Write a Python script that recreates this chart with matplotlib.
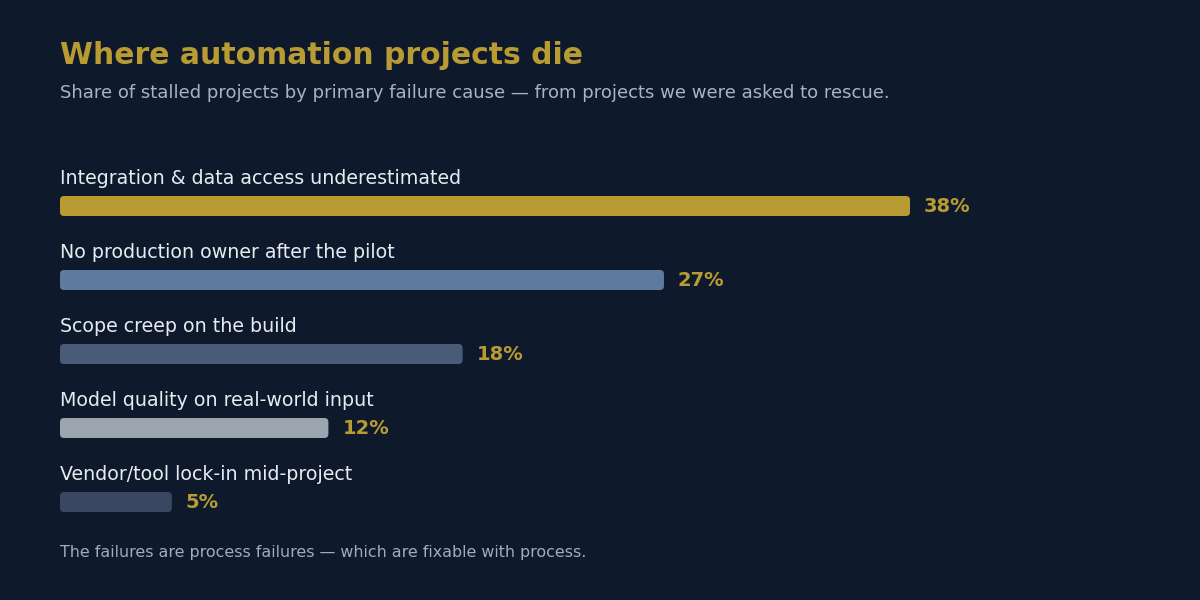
import matplotlib.pyplot as plt
from matplotlib.patches import FancyBboxPatch

plt.rcParams['font.family'] = ['DejaVu Sans']

# data
causes = ['Integration & data access underestimated',
          'No production owner after the pilot',
          'Scope creep on the build',
          'Model quality on real-world input',
          'Vendor/tool lock-in mid-project']
shares = [38, 27, 18, 12, 5]
barColors = ['#b89b32', '#5e7a9f', '#4a5b77', '#9ba4af', '#3a4760']

title = 'Where automation projects die'
subtitle = 'Share of stalled projects by primary failure cause \u2014 from projects we were asked to rescue.'
footnote = 'The failures are process failures \u2014 which are fixable with process.'

bg = '#0e1a2b'
gold = '#b89b32'

W, H = 1200, 600
fig = plt.figure(figsize=(W / 100, H / 100), dpi=100, facecolor=bg)
ax = fig.add_axes([0, 0, 1, 1])
ax.set_facecolor(bg)
ax.axis('off')

# layout: x=0 at px 60, 38% spans 850 px; rows 74 px apart, first bar centred at px 206
s = 38 / 850          # data units per px in x
rowPx = 74
firstPx = 206
ax.set_xlim(-60 * s, (W - 60) * s)
ax.set_ylim((H - firstPx) / rowPx, -firstPx / rowPx)

rows = list(range(len(causes)))
barH = 20 / rowPx
bars = ax.barh(rows, shares, height=barH, color=barColors)

# swap plain bars for rounded ones
for b, c in zip(bars, barColors):
    x0, y0, w, h = b.get_x(), b.get_y(), b.get_width(), b.get_height()
    b.remove()
    ax.add_patch(FancyBboxPatch((x0, y0), w, h,
                                boxstyle='round,pad=0,rounding_size=%f' % (4 * s),
                                mutation_aspect=(1 / rowPx) / s,
                                facecolor=c, edgecolor='none'))

for i, (cause, v) in enumerate(zip(causes, shares)):
    ax.text(0, i - 22 / rowPx, cause, ha='left', va='baseline',
            fontsize=13.7, color='#e6ebf1')
    ax.text(v + 14 * s, i + 1 / rowPx, '%d%%' % v, ha='left', va='center',
            fontsize=14, fontweight='bold', color=gold)

fig.text(60 / W, 1 - 63.5 / H, title, ha='left', va='baseline',
         fontsize=21.5, fontweight='bold', color=gold)
fig.text(60 / W, 1 - 98 / H, subtitle, ha='left', va='baseline',
         fontsize=13, color='#a9b4c3')
fig.text(60 / W, 1 - 556.5 / H, footnote, ha='left', va='baseline',
         fontsize=11.45, color='#a3adba')

fig.savefig('out.png', dpi=100, facecolor=bg)
